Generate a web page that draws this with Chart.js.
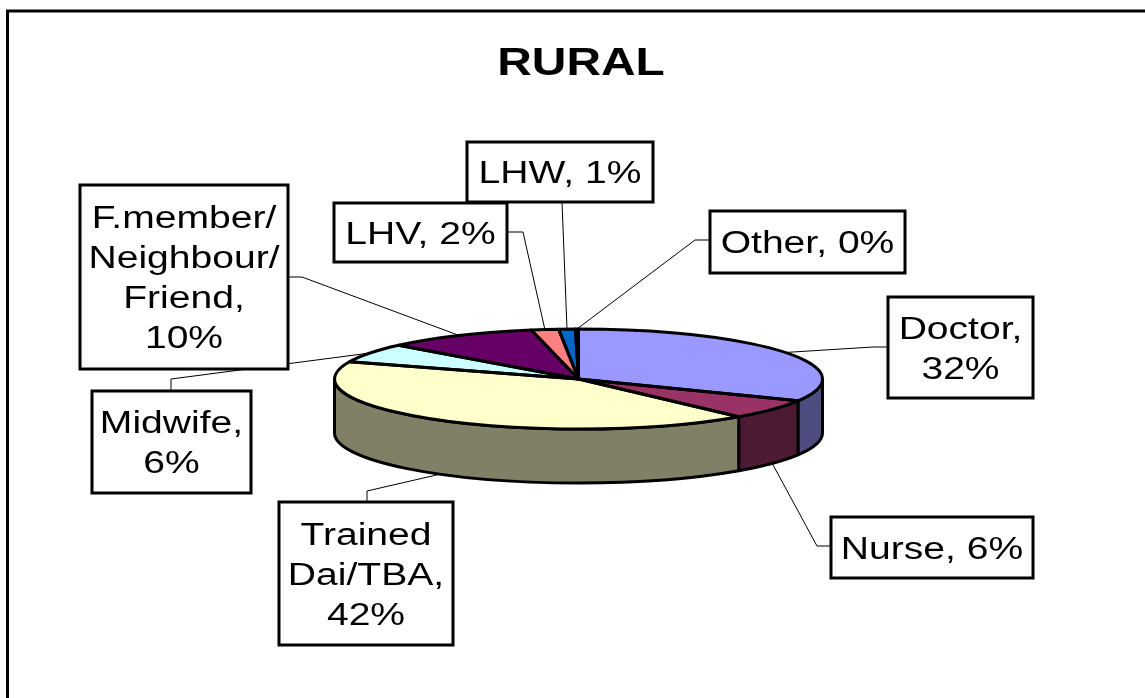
<!DOCTYPE html>
<html>
<head>
<meta charset="utf-8">
<title>RURAL</title>
<script src="https://cdn.jsdelivr.net/npm/chart.js@4.4.1/dist/chart.umd.min.js"></script>
<style>
    html, body { margin: 0; padding: 0; background: #fff; }
    #wrap { width: 1145px; height: 698px; }
</style>
</head>
<body>
<div id="wrap"><canvas id="ruralChart" width="1145" height="698"></canvas></div>
<script>
// Chart data
const chartTitle = 'RURAL';
const categories = ['Doctor', 'Nurse', 'Trained\nDai/TBA', 'Midwife', 'F.member/\nNeighbour/\nFriend', 'LHV', 'LHW', 'Other'];
const shares = [32.2, 6.4, 42.0, 6.2, 10.1, 1.8, 1.1, 0.2];
const sliceColors = ['#9999FF', '#993366', '#FFFFCC', '#CCFFFF', '#660066', '#FF8080', '#0066CC', '#CCCCFF'];

// Label boxes were dragged around by hand in the original, so keep them here
// pctBreak = put the percentage on its own line
const labelBoxes = [
    { x: 888, y: 297, w: 145, h: 101, pctBreak: true,  attach: [888, 347], elbow: [873, 347] },
    { x: 831, y: 517, w: 202, h: 61,  pctBreak: false, attach: [831, 546], elbow: [817, 546] },
    { x: 279, y: 502, w: 174, h: 143, pctBreak: true,  attach: [367, 502], elbow: [367, 491] },
    { x: 92,  y: 391, w: 159, h: 102, pctBreak: true,  attach: [171, 391], elbow: [171, 379] },
    { x: 80,  y: 185, w: 208, h: 184, pctBreak: true,  attach: [288, 277], elbow: [302, 277] },
    { x: 334, y: 203, w: 173, h: 59,  pctBreak: false, attach: [507, 232], elbow: [523, 232] },
    { x: 467, y: 142, w: 186, h: 60,  pctBreak: false, attach: [562, 202], elbow: [562, 202] },
    { x: 710, y: 211, w: 195, h: 62,  pctBreak: false, attach: [710, 240], elbow: [695, 240] }
];

const TILT = 50 / 244;      // vertical squash of the pie top
const DEPTH = 54;           // height of the pie side
const TEXT_SX = 1.26;       // the source picture is stretched sideways
const FONT = '"Liberation Sans", Arial, sans-serif';

function shade(hex, f) {
    const n = parseInt(hex.slice(1), 16);
    const r = Math.round(((n >> 16) & 255) * f);
    const g = Math.round(((n >> 8) & 255) * f);
    const b = Math.round((n & 255) * f);
    return `rgb(${r}, ${g}, ${b})`;
}

function squash(ctx, arc) {
    ctx.translate(arc.x, arc.y);
    ctx.scale(1, TILT);
    ctx.translate(-arc.x, -arc.y);
}

function stretchedText(ctx, text, x, y) {
    ctx.save();
    ctx.translate(x, y);
    ctx.scale(TEXT_SX, 1);
    ctx.fillText(text, 0, 0);
    ctx.restore();
}

const pie3d = {
    id: 'pie3d',
    beforeDraw(chart) {
        const ctx = chart.ctx;
        ctx.save();
        ctx.fillStyle = '#fff';
        ctx.fillRect(0, 0, chart.width, chart.height);
        // frame (only left/top edges are inside the picture)
        ctx.strokeStyle = '#000';
        ctx.lineWidth = 3;
        ctx.beginPath();
        ctx.moveTo(7.5, chart.height + 5);
        ctx.lineTo(7.5, 11);
        ctx.lineTo(chart.width + 5, 11);
        ctx.stroke();
        // title
        ctx.fillStyle = '#000';
        ctx.font = 'bold 38px ' + FONT;
        ctx.textAlign = 'center';
        ctx.textBaseline = 'alphabetic';
        stretchedText(ctx, chartTitle, 581, 75);
        ctx.restore();
    },
    beforeDatasetsDraw(chart) {
        const ctx = chart.ctx;
        const arcs = chart.getDatasetMeta(0).data;
        // side walls, front half only
        ctx.save();
        ctx.lineWidth = 3;
        ctx.lineJoin = 'round';
        ctx.strokeStyle = '#000';
        arcs.forEach((arc, i) => {
            const a1 = Math.max(arc.startAngle, 0);
            const a2 = Math.min(arc.endAngle, Math.PI);
            if (a2 <= a1) return;
            const rx = arc.outerRadius;
            const ry = rx * TILT;
            ctx.beginPath();
            ctx.ellipse(arc.x, arc.y, rx, ry, 0, a1, a2);
            ctx.ellipse(arc.x, arc.y + DEPTH, rx, ry, 0, a2, a1, true);
            ctx.closePath();
            ctx.fillStyle = shade(sliceColors[i], 0.5);
            ctx.fill();
            ctx.stroke();
        });
        ctx.restore();
        // squash the top so chart.js draws ellipse slices
        ctx.save();
        squash(ctx, arcs[0]);
    },
    afterDatasetsDraw(chart) {
        const ctx = chart.ctx;
        ctx.restore();
        const arcs = chart.getDatasetMeta(0).data;
        const total = shares.reduce((a, b) => a + b, 0);

        // slice outlines: build path squashed, stroke unsquashed
        ctx.save();
        ctx.lineWidth = 3;
        ctx.lineJoin = 'round';
        ctx.strokeStyle = '#000';
        arcs.forEach(arc => {
            ctx.save();
            squash(ctx, arc);
            ctx.beginPath();
            ctx.moveTo(arc.x, arc.y);
            ctx.arc(arc.x, arc.y, arc.outerRadius, arc.startAngle, arc.endAngle);
            ctx.closePath();
            ctx.restore();
            ctx.stroke();
        });
        ctx.restore();

        // leader lines
        ctx.save();
        ctx.lineWidth = 1;
        ctx.strokeStyle = '#000';
        arcs.forEach((arc, i) => {
            const box = labelBoxes[i];
            const mid = (arc.startAngle + arc.endAngle) / 2;
            const front = Math.sin(mid) > 0;
            const ax = arc.x + Math.cos(mid) * arc.outerRadius;
            const ay = arc.y + Math.sin(mid) * arc.outerRadius * TILT + (front ? DEPTH : 0);
            ctx.beginPath();
            ctx.moveTo(ax, ay);
            ctx.lineTo(box.elbow[0], box.elbow[1]);
            ctx.lineTo(box.attach[0], box.attach[1]);
            ctx.stroke();
        });
        ctx.restore();

        // label boxes
        ctx.save();
        ctx.font = '31px ' + FONT;
        ctx.textAlign = 'center';
        ctx.textBaseline = 'alphabetic';
        labelBoxes.forEach((box, i) => {
            const pct = Math.round(shares[i] / total * 100);
            const text = categories[i] + ',' + (box.pctBreak ? '\n' : ' ') + pct + '%';
            const lines = text.split('\n');
            ctx.fillStyle = '#fff';
            ctx.fillRect(box.x, box.y, box.w, box.h);
            ctx.lineWidth = 3;
            ctx.strokeStyle = '#000';
            ctx.strokeRect(box.x, box.y, box.w, box.h);
            ctx.fillStyle = '#000';
            const cx = box.x + box.w / 2;
            const first = box.y + box.h / 2 - (lines.length - 1) * 20 + 11;
            lines.forEach((ln, k) => stretchedText(ctx, ln, cx, first + k * 40));
        });
        ctx.restore();
    }
};

const ctx = document.getElementById('ruralChart').getContext('2d');
const ruralChart = new Chart(ctx, {
    type: 'pie',
    data: {
        labels: categories.map(c => c.replace(/\n/g, ' ')),
        datasets: [{
            data: shares,
            backgroundColor: sliceColors,
            borderWidth: 0
        }]
    },
    options: {
        responsive: false,
        animation: false,
        events: [],
        devicePixelRatio: 1,
        layout: {
            padding: { left: 334.5, right: 322.5, top: 135, bottom: 75 }
        },
        plugins: {
            legend: { display: false },
            title: { display: false },
            tooltip: { enabled: false }
        }
    },
    plugins: [pie3d]
});
</script>
</body>
</html>
